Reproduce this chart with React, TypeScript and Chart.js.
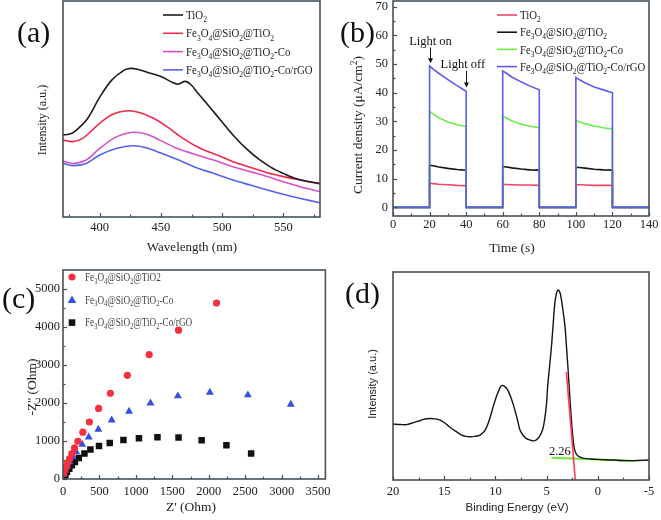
import React, { useEffect, useRef } from 'react';
import { Chart, registerables } from 'chart.js';
Chart.register(...registerables);

const SERIF = "'Liberation Serif', 'Times New Roman', serif";
const SANS = "'Liberation Sans', Arial, sans-serif";

// ---------- Panel (a): PL spectra ----------
const waveTiO2 = [370, 375, 380, 390, 400, 410, 420, 425, 430, 440, 450, 460, 464, 470, 475, 480, 490, 500, 510, 520, 530, 540, 550, 560, 570, 580];
const plTiO2 = [38, 38.3, 39.8, 45.5, 55.5, 63.5, 68, 68.8, 68.5, 66.8, 65, 62.2, 61.5, 62.8, 61, 57.5, 50.8, 44, 37.3, 31.5, 26.8, 23, 20.2, 17.8, 16.4, 15.6];
const waveFST = [370, 378, 386, 400, 411, 423, 433, 444, 455, 468, 482, 496, 509, 523, 537, 550, 564, 580];
const plFST = [35.6, 34.9, 36.4, 43.4, 47.7, 49.2, 48.3, 45.7, 41.8, 36.4, 31.8, 28.7, 25.6, 23, 20.5, 18.7, 17.1, 15.3];
const waveCo = [370, 378, 389, 400, 414, 427, 438, 449, 463, 477, 493, 509, 523, 537, 550, 564, 580];
const plCo = [25.9, 24.8, 26.4, 31.8, 37.2, 39.2, 38.4, 35.6, 31.8, 29.2, 26.4, 23.3, 21, 18.7, 16.3, 14, 11.7];
const plCoRGO = [24.8, 23.8, 24.8, 28.7, 31.8, 33.0, 32.1, 29.8, 26.7, 23.3, 20.2, 17.1, 14.8, 12.5, 10.5, 8.6, 6.6];
const ticksA = [400, 450, 500, 550];
const minorA = [375, 425, 475, 525, 575];

// ---------- Panel (b): photocurrent ----------
const timeS = [0, 20, 20, 22, 25, 30, 35, 40, 40, 60, 60, 62, 65, 70, 75, 80, 80, 100, 100, 102, 105, 110, 115, 120, 120, 140];
const jCoRGO = [0, 0, 49.3, 48.2, 46.8, 44.6, 42.5, 40.5, 0, 0, 47.6, 46.8, 45.5, 43.8, 42.3, 41, 0, 0, 45.3, 44.5, 43.5, 42, 41, 40, 0, 0];
const jCo = [0, 0, 33.5, 32.6, 31.3, 29.8, 28.8, 28.2, 0, 0, 31.8, 31.2, 30.2, 29, 28.3, 27.8, 0, 0, 30.3, 29.9, 29.2, 28.4, 27.8, 27.4, 0, 0];
const jFST = [0, 0, 14.7, 14.5, 14.1, 13.6, 13.2, 13, 0, 0, 14.3, 14.1, 13.8, 13.4, 13.1, 13, 0, 0, 14, 13.9, 13.7, 13.3, 13.1, 13, 0, 0];
const jTiO2 = [0, 0, 8.4, 8.3, 8.1, 7.9, 7.7, 7.6, 0, 0, 8, 8, 7.9, 7.8, 7.8, 7.7, 0, 0, 7.9, 7.9, 7.8, 7.7, 7.7, 7.7, 0, 0];
const ticksBx = [0, 20, 40, 60, 80, 100, 120, 140];
const ticksBy = [0, 10, 20, 30, 40, 50, 60, 70];
const minorBx = [10, 30, 50, 70, 90, 110, 130];
const minorBy = [5, 15, 25, 35, 45, 55, 65];

// ---------- Panel (c): Nyquist ----------
const zReFST = [9, 23, 41, 63, 91, 122, 158, 204, 272, 362, 489, 650, 883, 1182, 1585, 2106];
const zImFST = [141, 229, 317, 422, 536, 668, 818, 994, 1231, 1500, 1856, 2254, 2729, 3275, 3917, 4630];
const zReCo = [14, 32, 59, 91, 136, 181, 263, 353, 485, 668, 906, 1200, 1576, 2015, 2536, 3125];
const zImCo = [141, 229, 334, 449, 580, 712, 906, 1100, 1306, 1549, 1780, 1995, 2183, 2280, 2210, 1963];
const zReRGO = [14, 32, 54, 86, 122, 163, 217, 294, 376, 494, 641, 829, 1042, 1296, 1585, 1902, 2242, 2581];
const zImRGO = [53, 114, 185, 273, 361, 449, 554, 668, 774, 871, 946, 1025, 1074, 1100, 1092, 1021, 889, 669];
const ticksCx = [0, 500, 1000, 1500, 2000, 2500, 3000, 3500];
const ticksCy = [0, 1000, 2000, 3000, 4000, 5000];
const minorCx = [250, 750, 1250, 1750, 2250, 2750, 3250];
const minorCy = [500, 1500, 2500, 3500, 4500];

// ---------- Panel (d): valence band XPS ----------
const energyEV = [20, 19.3, 18.7, 18, 17.4, 16.9, 16.4, 15.9, 15.4, 14.9, 14.5, 13.9, 13.3, 12.9, 12.5, 12, 11.5, 11, 10.6, 10.2, 9.9, 9.6, 9.4, 9.1, 8.8, 8.4, 8.1, 7.8, 7.6, 7.3, 7.0, 6.6, 6.3, 6.0, 5.7, 5.4, 5.2, 5.0, 4.9, 4.7, 4.5, 4.35, 4.2, 4.05, 3.9, 3.75, 3.6, 3.4, 3.2, 3.05, 2.9, 2.75, 2.6, 2.45, 2.3, 2.1, 1.9, 1.6, 1.3, 0.7, 0.1, -0.7, -1.5, -2.3, -3.1, -4, -5];
const vbIntensity = [26.9, 26.7, 26.6, 27.6, 28.5, 29.3, 29.6, 29.4, 28.8, 27.3, 25.6, 23.5, 21.6, 21.0, 20.8, 21.0, 21.6, 24.0, 28.8, 35.5, 40.1, 43.8, 45.4, 45.0, 43.3, 38.5, 33.7, 28.0, 24.0, 21.5, 20.0, 19.2, 18.8, 19.3, 20.8, 24.0, 28.8, 37.0, 44.9, 55.0, 65.7, 75.5, 84.9, 89.5, 91.3, 90.8, 88.1, 81.5, 73.7, 63.5, 52.9, 41.5, 30.4, 21.5, 15.2, 12.5, 11.5, 10.8, 10.4, 10.1, 9.9, 9.7, 9.6, 9.4, 9.3, 9.4, 9.6];
const tangentE = [3.07, 2.2];
const tangentI = [52, 0];
const baseE = [4.53, -3.77];
const baseI = [10.7, 9.1];
const ticksD = [20, 15, 10, 5, 0, -5];
const minorD = [17.5, 12.5, 7.5, 2.5, -2.5];

const BOX = '#46505a';
const pts = (xs: number[], ys: number[]) => xs.map((x, i) => ({ x, y: ys[i] }));

type Seg = { t: string; k: number };
function segments(text: string): Seg[] {
  const segs: Seg[] = [];
  for (let i = 0; i < text.length; i++) {
    const c = text[i];
    if ((c === '_' || c === '^') && i + 1 < text.length) {
      segs.push({ t: text[i + 1], k: c === '_' ? 1 : 2 });
      i++;
    } else {
      const last = segs[segs.length - 1];
      if (last && last.k === 0) last.t += c;
      else segs.push({ t: c, k: 0 });
    }
  }
  return segs;
}
function drawRich(ctx: CanvasRenderingContext2D, text: string, x: number, y: number, size: number, family: string, color: string, align: 'left' | 'center' = 'left', stretch = 1) {
  const segs = segments(text);
  ctx.save();
  ctx.translate(x, y);
  ctx.scale(stretch, 1);
  ctx.fillStyle = color;
  ctx.textBaseline = 'alphabetic';
  ctx.textAlign = 'left';
  const fontOf = (s: Seg) => `${s.k ? size * 0.7 : size}px ${family}`;
  let total = 0;
  for (const s of segs) { ctx.font = fontOf(s); total += ctx.measureText(s.t).width; }
  let cx = align === 'center' ? -total / 2 : 0;
  const base = size * 0.33;
  for (const s of segs) {
    ctx.font = fontOf(s);
    const dy = s.k === 1 ? size * 0.25 : s.k === 2 ? -size * 0.38 : 0;
    ctx.fillText(s.t, cx, base + dy);
    cx += ctx.measureText(s.t).width;
  }
  ctx.restore();
}
function marker(ctx: CanvasRenderingContext2D, kind: string, x: number, y: number, color: string) {
  ctx.fillStyle = color;
  ctx.beginPath();
  if (kind === 'circle') ctx.arc(x, y, 3.6, 0, Math.PI * 2);
  else if (kind === 'triangle') { ctx.moveTo(x, y - 4.3); ctx.lineTo(x + 4.3, y + 3.2); ctx.lineTo(x - 4.3, y + 3.2); ctx.closePath(); }
  else ctx.rect(x - 3.3, y - 3.3, 6.6, 6.6);
  ctx.fill();
}

type LegendItem = { label: string; color: string; kind: string };
type Spec = {
  tag: string; tagX: number; tagY: number;
  yTitle: string; yTitleX: number; yTitleY: number; yFamily: string; ySize: number;
  xTitle: string; xTitleX: number; xTitleY: number; xFamily: string; xSize: number;
  xMinor: number[]; yMinor: number[]; yMajor: boolean;
  legend: { x: number; y: number; dy: number; size: number; color: string; lineLen: number; stretch: number; items: LegendItem[] };
  extra?: (chart: any) => void;
};

function makePlugin(spec: Spec) {
  return {
    id: 'panelDeco',
    afterDatasetsDraw(chart: any) {
      const { ctx, chartArea: a } = chart;
      const xs = chart.scales.x, ys = chart.scales.y;
      ctx.save();
      ctx.strokeStyle = BOX;
      ctx.lineWidth = 1.6;
      ctx.strokeRect(a.left, a.top, a.right - a.left, a.bottom - a.top);
      ctx.lineWidth = 1.2;
      const xt = (v: number, len: number) => {
        const p = Math.round(xs.getPixelForValue(v)) + 0.5;
        ctx.beginPath(); ctx.moveTo(p, a.bottom); ctx.lineTo(p, a.bottom - len); ctx.stroke();
      };
      const yt = (v: number, len: number) => {
        const p = Math.round(ys.getPixelForValue(v)) + 0.5;
        ctx.beginPath(); ctx.moveTo(a.left, p); ctx.lineTo(a.left + len, p); ctx.stroke();
      };
      xs.ticks.forEach((t: any) => xt(t.value, 4));
      spec.xMinor.forEach((v) => xt(v, 2.5));
      if (spec.yMajor) ys.ticks.forEach((t: any) => yt(t.value, 4));
      spec.yMinor.forEach((v) => yt(v, 2.5));
      // panel tag
      ctx.fillStyle = '#111';
      ctx.font = `30px ${SERIF}`;
      ctx.textAlign = 'left';
      ctx.textBaseline = 'alphabetic';
      ctx.fillText(spec.tag, spec.tagX, spec.tagY);
      // titles
      ctx.save();
      ctx.translate(spec.yTitleX, spec.yTitleY);
      ctx.rotate(-Math.PI / 2);
      drawRich(ctx, spec.yTitle, 0, 0, spec.ySize, spec.yFamily, '#222', 'center');
      ctx.restore();
      drawRich(ctx, spec.xTitle, spec.xTitleX, spec.xTitleY, spec.xSize, spec.xFamily, '#222', 'center');
      // legend
      const L = spec.legend;
      L.items.forEach((it, i) => {
        const y = L.y + i * L.dy;
        if (it.kind === 'line') {
          ctx.strokeStyle = it.color; ctx.lineWidth = 1.6;
          ctx.beginPath(); ctx.moveTo(L.x, y); ctx.lineTo(L.x + L.lineLen, y); ctx.stroke();
          drawRich(ctx, it.label, L.x + L.lineLen + 3, y, L.size, SERIF, L.color, 'left', L.stretch);
        } else {
          marker(ctx, it.kind, L.x, y, it.color);
          drawRich(ctx, it.label, L.x + 13, y, L.size, SERIF, L.color, 'left', L.stretch);
        }
      });
      if (spec.extra) spec.extra(chart);
      ctx.restore();
    },
  };
}

function scalesFor(W: number, H: number, area: number[], x: any, y: any) {
  const tickFont = { family: SERIF, size: 12.5 };
  return {
    layout: { padding: { left: 0, top: area[1], right: W - area[2], bottom: 0 } },
    scales: {
      x: {
        type: 'linear', grid: { display: false, drawTicks: false }, border: { display: false },
        ticks: { font: tickFont, color: '#222', padding: x.pad, autoSkip: false, maxRotation: 0, callback: (v: any) => String(v) },
        afterBuildTicks: (s: any) => { s.ticks = x.ticks.map((v: number) => ({ value: v })); },
        afterFit: (s: any) => { s.height = H - area[3]; s.paddingLeft = 0; s.paddingRight = 0; },
        ...x.opts,
      },
      y: {
        type: 'linear', grid: { display: false, drawTicks: false }, border: { display: false },
        ticks: { font: tickFont, color: '#222', padding: y.pad || 4, autoSkip: false, display: !!y.ticks, callback: (v: any) => String(v) },
        afterBuildTicks: (s: any) => { if (y.ticks) s.ticks = y.ticks.map((v: number) => ({ value: v })); },
        afterFit: (s: any) => { s.width = area[0]; s.paddingTop = 0; s.paddingBottom = 0; },
        ...y.opts,
      },
    },
  };
}

function ChartPanel({ left, top, width, height, make }: { left: number; top: number; width: number; height: number; make: () => any }) {
  const ref = useRef<HTMLCanvasElement>(null);
  useEffect(() => {
    const chart = new Chart(ref.current as HTMLCanvasElement, make());
    return () => chart.destroy();
  }, []);
  return <canvas ref={ref} width={width} height={height} style={{ position: 'absolute', left, top, width, height }} />;
}

const baseOpts = {
  responsive: false,
  animation: false,
  plugins: { legend: { display: false }, tooltip: { enabled: false } },
  elements: { point: { radius: 0 } },
};

const FST = 'Fe_3O_4@SiO_2@TiO_2';
const FSTCo = 'Fe_3O_4@SiO_2@TiO_2-Co';
const FSTRGO = 'Fe_3O_4@SiO_2@TiO_2-Co/rGO';

function makeA() {
  const W = 330, H = 260, area = [63, 1, 320, 217];
  const line = (data: any, color: string) => ({ data, borderColor: color, borderWidth: 1.6, tension: 0.35, pointRadius: 0, fill: false });
  return {
    type: 'line',
    data: {
      datasets: [
        line(pts(waveTiO2, plTiO2), '#1c1c1c'),
        line(pts(waveFST, plFST), '#f2284c'),
        line(pts(waveCo, plCo), '#d452cc'),
        line(pts(waveCo, plCoRGO), '#5563ee'),
      ],
    },
    options: {
      ...baseOpts,
      ...scalesFor(W, H, area, { ticks: ticksA, pad: 3, opts: { min: 370, max: 580 } }, { ticks: null, opts: { min: 0, max: 100 } }),
    },
    plugins: [makePlugin({
      tag: '(a)', tagX: 17, tagY: 42,
      yTitle: 'Intensity (a.u.)', yTitleX: 42, yTitleY: 120, yFamily: SERIF, ySize: 12,
      xTitle: 'Wavelength (nm)', xTitleX: 192, xTitleY: 247, xFamily: SERIF, xSize: 13,
      xMinor: minorA, yMinor: [], yMajor: false,
      legend: {
        x: 163, y: 15, dy: 18.3, size: 12.5, color: '#222', lineLen: 20, stretch: 0.87, items: [
          { label: 'TiO_2', color: '#1c1c1c', kind: 'line' },
          { label: FST, color: '#f2284c', kind: 'line' },
          { label: FSTCo, color: '#d452cc', kind: 'line' },
          { label: FSTRGO, color: '#5563ee', kind: 'line' },
        ],
      },
    })],
  };
}

function arrowDown(ctx: CanvasRenderingContext2D, x: number, y1: number, y2: number) {
  ctx.strokeStyle = '#111'; ctx.fillStyle = '#111'; ctx.lineWidth = 1;
  ctx.beginPath(); ctx.moveTo(x, y1); ctx.lineTo(x, y2 - 4); ctx.stroke();
  ctx.beginPath(); ctx.moveTo(x, y2); ctx.lineTo(x - 2.5, y2 - 5); ctx.lineTo(x + 2.5, y2 - 5); ctx.closePath(); ctx.fill();
}

function makeB() {
  const W = 331, H = 260, area = [63, 1, 319, 216];
  const line = (vals: number[], color: string) => ({ data: pts(timeS, vals), borderColor: color, borderWidth: 1.6, tension: 0, pointRadius: 0, fill: false });
  return {
    type: 'line',
    data: {
      datasets: [
        line(jCoRGO, '#5a5cf2'),
        line(jCo, '#6aec45'),
        line(jFST, '#151515'),
        line(jTiO2, '#f0446a'),
      ],
    },
    options: {
      ...baseOpts,
      ...scalesFor(W, H, area, { ticks: ticksBx, pad: 1, opts: { min: 0, max: 140 } }, { ticks: ticksBy, pad: 5, opts: { min: -3, max: 72 } }),
    },
    plugins: [makePlugin({
      tag: '(b)', tagX: 10, tagY: 42,
      yTitle: 'Current density (μA/cm^2)', yTitleX: 28, yTitleY: 125, yFamily: SERIF, ySize: 13.5,
      xTitle: 'Time (s)', xTitleX: 182, xTitleY: 248, xFamily: SERIF, xSize: 13.5,
      xMinor: minorBx, yMinor: minorBy, yMajor: true,
      legend: {
        x: 167, y: 15, dy: 17.2, size: 12.5, color: '#222', lineLen: 20, stretch: 0.86, items: [
          { label: 'TiO_2', color: '#f0446a', kind: 'line' },
          { label: FST, color: '#151515', kind: 'line' },
          { label: FSTCo, color: '#6aec45', kind: 'line' },
          { label: FSTRGO, color: '#5a5cf2', kind: 'line' },
        ],
      },
      extra: (chart: any) => {
        const { ctx } = chart;
        const xs = chart.scales.x, ys = chart.scales.y;
        ctx.fillStyle = '#111';
        ctx.font = `12.5px ${SERIF}`;
        ctx.textAlign = 'center';
        ctx.textBaseline = 'middle';
        ctx.fillText('Light on', xs.getPixelForValue(20.5), ys.getPixelForValue(57.8));
        arrowDown(ctx, Math.round(xs.getPixelForValue(20)) + 0.5, ys.getPixelForValue(55.8), ys.getPixelForValue(50.3));
        ctx.fillStyle = '#111';
        ctx.fillText('Light off', xs.getPixelForValue(38.2), ys.getPixelForValue(49.8));
        arrowDown(ctx, Math.round(xs.getPixelForValue(40)) + 0.5, ys.getPixelForValue(47.6), ys.getPixelForValue(41.8));
      },
    })],
  };
}

function makeC() {
  const W = 330, H = 260, area = [63, 10, 329, 219];
  return {
    type: 'scatter',
    data: {
      datasets: [
        { data: pts(zReFST, zImFST), backgroundColor: '#f4303f', borderWidth: 0, pointStyle: 'circle', pointRadius: 3.6 },
        { data: pts(zReCo, zImCo), backgroundColor: '#3450de', borderWidth: 0, pointStyle: 'triangle', pointRadius: 4.6 },
        { data: pts(zReRGO, zImRGO), backgroundColor: '#111111', borderWidth: 0, pointStyle: 'rect', pointRadius: 4.6 },
      ],
    },
    options: {
      ...baseOpts,
      ...scalesFor(W, H, area, { ticks: ticksCx, pad: 5, opts: { min: 0, max: 3600 } }, { ticks: ticksCy, pad: 3, opts: { min: 0, max: 5500 } }),
    },
    plugins: [makePlugin({
      tag: '(c)', tagX: 2, tagY: 48,
      yTitle: "-Z'' (Ohm)", yTitleX: 32, yTitleY: 127, yFamily: SERIF, ySize: 13.5,
      xTitle: "Z' (Ohm)", xTitleX: 191, xTitleY: 247, xFamily: SERIF, xSize: 13.5,
      xMinor: minorCx, yMinor: minorCy, yMajor: true,
      legend: {
        x: 72, y: 17, dy: 22.8, size: 11.5, color: '#444', lineLen: 0, stretch: 0.8, items: [
          { label: 'Fe_3O_4@SiO_2@TiO2', color: '#f4303f', kind: 'circle' },
          { label: FSTCo, color: '#3450de', kind: 'triangle' },
          { label: FSTRGO, color: '#111111', kind: 'rect' },
        ],
      },
    })],
  };
}

function makeD() {
  const W = 331, H = 260, area = [63, 12, 319, 220];
  return {
    type: 'line',
    data: {
      datasets: [
        { data: pts(tangentE, tangentI), borderColor: '#ff3a5c', borderWidth: 1.6, pointRadius: 0, tension: 0 },
        { data: pts(energyEV, vbIntensity), borderColor: '#151515', borderWidth: 1.4, pointRadius: 0, tension: 0.3 },
        { data: pts(baseE, baseI), borderColor: '#6ee83a', borderWidth: 2, pointRadius: 0, tension: 0 },
      ],
    },
    options: {
      ...baseOpts,
      ...scalesFor(W, H, area, { ticks: ticksD, pad: 4, opts: { min: -5, max: 20, reverse: true } }, { ticks: null, opts: { min: 0, max: 100 } }),
    },
    plugins: [makePlugin({
      tag: '(d)', tagX: 15, tagY: 43,
      yTitle: 'Intensity (a.u.)', yTitleX: 42.5, yTitleY: 124, yFamily: SANS, ySize: 11,
      xTitle: 'Binding Energy (eV)', xTitleX: 187, xTitleY: 247, xFamily: SANS, xSize: 11.5,
      xMinor: minorD, yMinor: [], yMajor: false,
      legend: { x: 0, y: 0, dy: 0, size: 12, color: '#222', lineLen: 0, stretch: 1, items: [] },
      extra: (chart: any) => {
        const { ctx } = chart;
        const xs = chart.scales.x, ys = chart.scales.y;
        ctx.fillStyle = '#111';
        ctx.font = `12.5px ${SERIF}`;
        ctx.textAlign = 'center';
        ctx.textBaseline = 'middle';
        ctx.fillText('2.26', xs.getPixelForValue(3.7), ys.getPixelForValue(13.6));
      },
    })],
  };
}

export default function App() {
  return (
    <div style={{ position: 'absolute', left: 0, top: 0, width: 661, height: 520, background: '#fff', overflow: 'hidden' }}>
      <ChartPanel left={0} top={0} width={330} height={260} make={makeA} />
      <ChartPanel left={330} top={0} width={331} height={260} make={makeB} />
      <ChartPanel left={0} top={260} width={330} height={260} make={makeC} />
      <ChartPanel left={330} top={260} width={331} height={260} make={makeD} />
    </div>
  );
}
